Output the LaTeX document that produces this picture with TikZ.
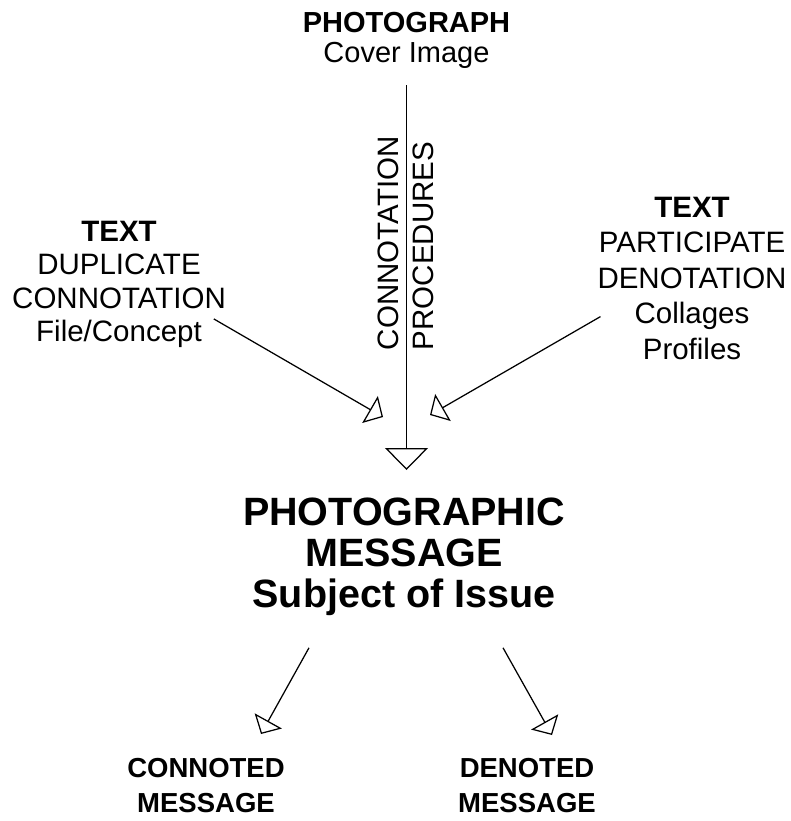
\documentclass[tikz,border=0pt]{standalone}
\usepackage{fontspec}
\setmainfont{Liberation Sans}
\usetikzlibrary{arrows.meta}
\begin{document}
\begin{tikzpicture}[x=1pt,y=1pt,
  lbl/.style={inner sep=0pt, outer sep=0pt, align=center, anchor=north},
  mid/.style={lbl, font=\fontsize{29}{30}\selectfont},
  side/.style={lbl, font=\fontsize{29.5}{33.5}\selectfont},
  sider/.style={lbl, font=\fontsize{29.5}{35.5}\selectfont},
  big/.style={lbl, font=\fontsize{39.5}{41}\selectfont\bfseries},
  low/.style={lbl, font=\fontsize{27.5}{35}\selectfont\bfseries},
  bigarrow/.style={line width=1.25pt, -{Triangle[open,length=22pt,width=43pt]}},
  sidearrow/.style={line width=1.25pt, -{Triangle[open,length=15pt,width=31pt]}}]
\fill[white] (0,0) rectangle (791,-821);
\useasboundingbox (0,0) rectangle (791,-821);

\node[mid] (photo) at (406.5,-12) {\textbf{PHOTOGRAPH}\\Cover Image};
\node[side, rotate=90, anchor=north west, align=left] (proc) at (378,-350)
  {CONNOTATION\\[1pt]PROCEDURES};
\node[side] (lt) at (119,-221) {\textbf{TEXT}\\DUPLICATE\\CONNOTATION\\File/Concept};
\node[sider] (rt) at (692,-197) {\textbf{TEXT}\\PARTICIPATE\\DENOTATION\\Collages\\Profiles};
\node[big] (msg) at (404,-498) {PHOTOGRAPHIC\\MESSAGE\\Subject of Issue};
\node[low] (con) at (206,-758) {CONNOTED\\MESSAGE};
\node[low] (den) at (527,-758) {DENOTED\\MESSAGE};

\draw[bigarrow, shorten <=17pt] (photo.south) -- ([yshift=28pt]photo.south |- msg.north);
\draw[sidearrow] ([shift={(-12,29)}]lt.south east) -- ([shift={(-21,81)}]msg.north);
\draw[sidearrow] ([shift={(3,43)}]rt.south west) -- ([shift={(26,83)}]msg.north);
\draw[sidearrow] ([shift={(-95,-32)}]msg.south) -- ([shift={(55,24)}]con.north);
\draw[sidearrow] ([shift={(99,-32)}]msg.south) -- ([shift={(25,23)}]den.north);
\end{tikzpicture}
\end{document}
